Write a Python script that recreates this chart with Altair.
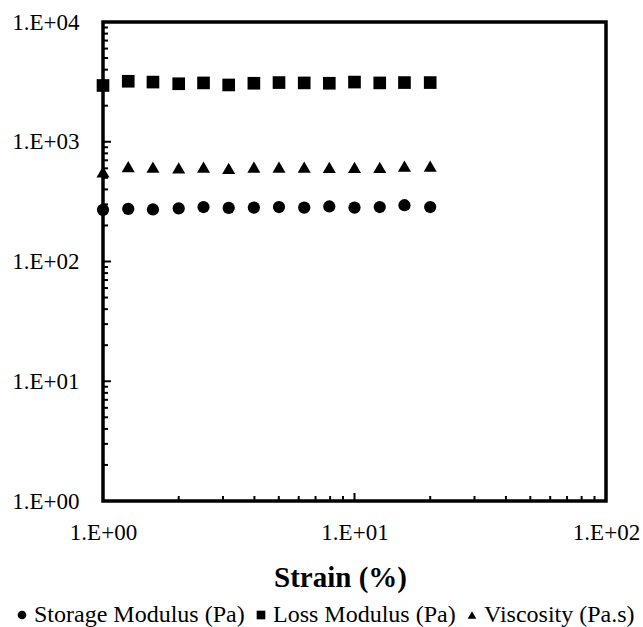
import altair as alt
import pandas as pd

# ---- data ----
strain = [1.0, 1.26, 1.58, 2.0, 2.51, 3.16, 3.98, 5.01, 6.31, 7.94, 10.0, 12.6, 15.8, 20.0]
storage = [270, 275, 272, 278, 285, 280, 282, 285, 282, 288, 282, 285, 295, 285]
loss = [2950, 3200, 3150, 3050, 3100, 2980, 3080, 3120, 3100, 3080, 3150, 3100, 3120, 3120]
viscosity = [560, 620, 615, 605, 615, 600, 615, 615, 615, 612, 612, 612, 625, 625]

series_names = ["Storage Modulus (Pa)", "Loss Modulus (Pa)", "Viscosity (Pa.s)"]
x_major = [10]
x_minor = [2, 3, 4, 5, 6, 7, 8, 9, 20, 30, 40, 50, 60, 70, 80, 90]
y_major = [10, 100, 1000]
y_minor = [m * d for d in [1, 10, 100, 1000] for m in range(2, 10)]

rows = []
for name, vals in zip(series_names, [storage, loss, viscosity]):
    for xv, yv in zip(strain, vals):
        rows.append({"strain": xv, "value": yv, "series": name, "sz": name})
df = pd.DataFrame(rows)

W, H = 503, 479
FONT = "'Liberation Serif', 'DejaVu Serif', serif"

xscale = alt.Scale(type="log", domain=[1, 100], nice=False)
yscale = alt.Scale(type="log", domain=[1, 10000], nice=False)
label_expr = "'1.E+0' + round(log(datum.value)/LN10)"

xaxis = alt.Axis(values=[1, 10, 100], labelExpr=label_expr, title="Strain (%)",
                 ticks=False, domain=False, grid=False,
                 labelFont=FONT, labelFontSize=23, labelColor="black",
                 labelPadding=20, labelFlush=False,
                 titleFont=FONT, titleFontSize=29, titleFontWeight="bold",
                 titleColor="black", titlePadding=19, titleX=237)
yaxis = alt.Axis(values=[1, 10, 100, 1000, 10000], labelExpr=label_expr, title=None,
                 ticks=False, domain=False, grid=False,
                 labelFont=FONT, labelFontSize=23, labelColor="black",
                 labelPadding=24, labelFlush=False)

points = alt.Chart(df).mark_point(filled=True, opacity=1, color="black").encode(
    x=alt.X("strain:Q", scale=xscale, axis=xaxis),
    y=alt.Y("value:Q", scale=yscale, axis=yaxis),
    shape=alt.Shape("series:N",
                    scale=alt.Scale(domain=series_names,
                                    range=["circle", "square", "triangle-up"]),
                    legend=alt.Legend(title=None, orient="none", direction="horizontal",
                                      legendX=-93, legendY=581)),
    size=alt.Size("sz:N",
                  scale=alt.Scale(domain=series_names[::-1], range=[170, 150, 115]),
                  legend=None),
)

xticks_minor = alt.Chart(pd.DataFrame({"t": x_minor})).mark_rule(color="black", strokeWidth=2).encode(
    x=alt.X("t:Q", scale=xscale, axis=xaxis),
    y=alt.value(H), y2=alt.value(H - 5))
xticks_major = alt.Chart(pd.DataFrame({"t": x_major})).mark_rule(color="black", strokeWidth=2).encode(
    x=alt.X("t:Q", scale=xscale, axis=xaxis),
    y=alt.value(H), y2=alt.value(H - 8))
yticks_minor = alt.Chart(pd.DataFrame({"t": y_minor})).mark_rule(color="black", strokeWidth=2).encode(
    y=alt.Y("t:Q", scale=yscale, axis=yaxis),
    x=alt.value(0), x2=alt.value(5))
yticks_major = alt.Chart(pd.DataFrame({"t": y_major})).mark_rule(color="black", strokeWidth=2).encode(
    y=alt.Y("t:Q", scale=yscale, axis=yaxis),
    x=alt.value(0), x2=alt.value(8))

chart = alt.layer(points, xticks_minor, xticks_major, yticks_minor, yticks_major).properties(
    width=W, height=H,
    autosize=alt.AutoSizeParams(type="none"),
    padding={"left": 103, "top": 22, "right": 37, "bottom": 126},
    background="white",
).configure_view(
    stroke="black", strokeWidth=3.5
).configure_legend(
    labelFont=FONT, labelFontSize=24, labelColor="black", labelLimit=400,
    symbolFillColor="black", symbolStrokeWidth=0, symbolSize=75,
    labelOffset=0, columnPadding=4, padding=0,
)

chart.save("out.html", embed_options={"renderer": "svg", "actions": False})
